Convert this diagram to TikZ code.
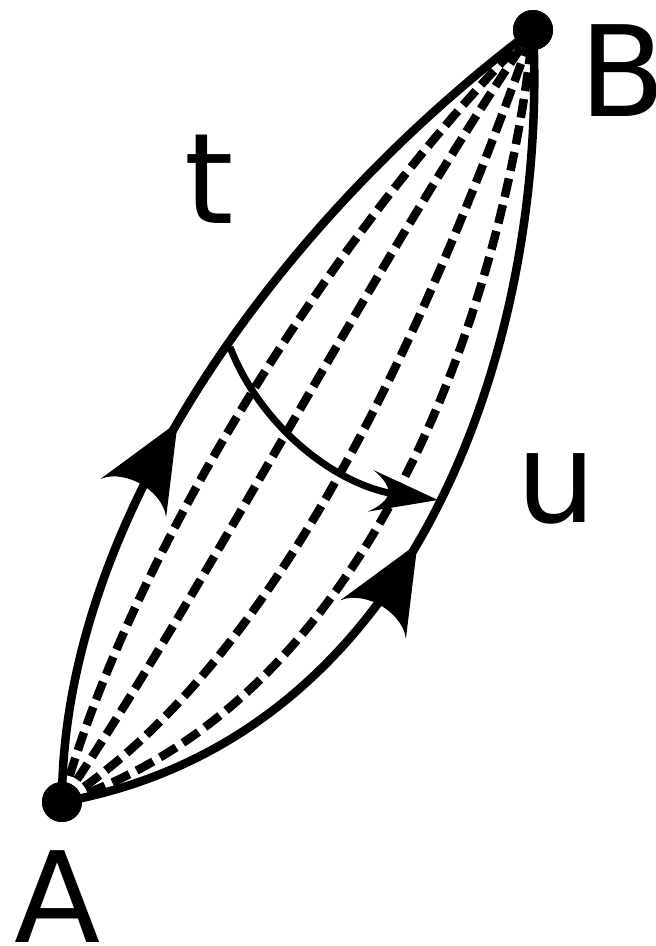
\documentclass[tikz,border=0pt]{standalone}
\usepackage{fontspec}
\setmainfont{DejaVu Sans}
\usetikzlibrary{calc,decorations.markings}
\newcommand\bighead{\fill (0pt,0pt) -- (-88pt,38pt) .. controls (-76pt,29pt) and (-72pt,12pt) .. (-72pt,0pt) .. controls (-72pt,-12pt) and (-76pt,-29pt) .. (-88pt,-38pt) -- cycle;}
\newcommand\smallhead{\fill (0pt,0pt) -- (-68pt,21pt) .. controls (-58pt,15pt) and (-50pt,7pt) .. (-50pt,0pt) .. controls (-50pt,-7pt) and (-58pt,-15pt) .. (-68pt,-21pt) -- cycle;}
\begin{document}
\begin{tikzpicture}[x=1pt,y=-1pt,
  solidcurve/.style={line width=8.5pt},
  dashedcurve/.style={line width=8.5pt,dash pattern=on 19pt off 8pt},
  dot/.style={circle,fill=black,inner sep=0pt,minimum size=40pt},
  lbl/.style={inner sep=0pt,font=\fontsize{126}{130}\selectfont},
  midarrow/.style={postaction={decorate},decoration={markings,
     mark=at position #1 with {\bighead}}}]
\useasboundingbox (0,0) rectangle (656,946);
\coordinate (l1) at (62,520);
\coordinate (l2) at (280,220);
\coordinate (r1) at (435,735);
\coordinate (r2) at (548,310);
\node[dot] (A) at (62,802) {};
\node[dot] (B) at (533,30) {};
\foreach \s in {0.18,0.37,0.62,0.84}{
  \draw[dashedcurve] (A.center) .. controls ($(l1)!\s!(r1)$) and ($(l2)!\s!(r2)$) .. (B.center);
}
\draw[solidcurve,midarrow=0.43] (A.center) .. controls (l1) and (l2) .. (B.center);
\draw[solidcurve,midarrow=0.46] (A.center) .. controls (r1) and (r2) .. (B.center);
\coordinate (c0) at (230,347);
\coordinate (c3) at (438,500);
\path[postaction={decorate},decoration={markings,mark=at position 0.9999 with {\smallhead}}]
  (c0) .. controls (260,425) and (335,486) .. (c3);
\draw[line width=7pt,shorten >=40pt] (c0) .. controls (260,425) and (335,486) .. (c3);
\node[dot] at (A) {};
\node[dot] at (B) {};
\node[lbl] (lA) at (58,897) {A};
\node[lbl] (lB) at (623,71) {B};
\node[lbl] (lt) at (209,179) {t};
\node[lbl] (lu) at (556,488) {u};
\end{tikzpicture}
\end{document}
